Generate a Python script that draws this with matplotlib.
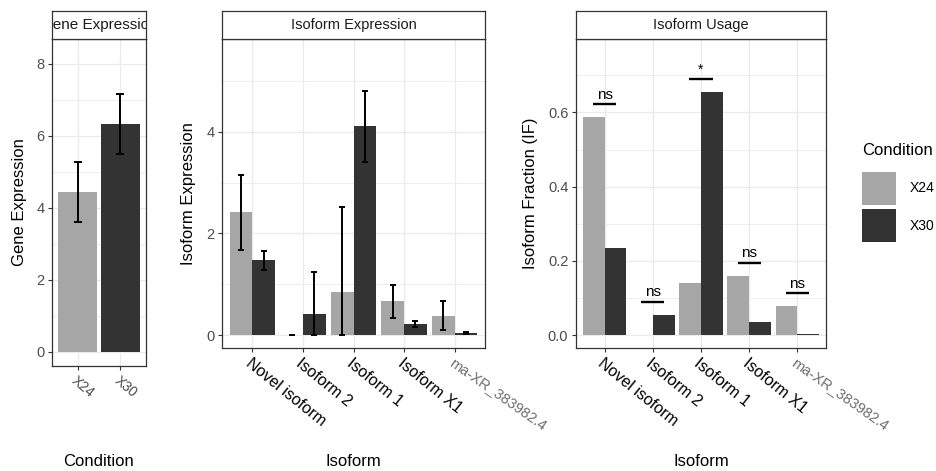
import matplotlib
matplotlib.use("Agg")
import matplotlib.pyplot as plt
from matplotlib.patches import Patch
from matplotlib.ticker import MultipleLocator
from matplotlib.transforms import ScaledTranslation
import numpy as np

plt.rcParams['font.family'] = ['Liberation Sans', 'DejaVu Sans']

# ---------------- data ----------------
conditions = ["X24", "X30"]
gene_mean = [4.45, 6.33]
gene_lo = [3.62, 5.50]
gene_hi = [5.27, 7.17]

isoforms = ["Novel isoform", "Isoform 2", "Isoform 1", "Isoform X1", "ma-XR_383982.4"]
iso_x24 = [2.42, 0.0, 0.85, 0.67, 0.38]
iso_x24_lo = [1.68, 0.0, 0.0, 0.33, 0.09]
iso_x24_hi = [3.15, 0.0, 2.53, 0.99, 0.66]
iso_x30 = [1.47, 0.42, 4.11, 0.21, 0.03]
iso_x30_lo = [1.29, 0.0, 3.41, 0.15, 0.01]
iso_x30_hi = [1.65, 1.25, 4.81, 0.28, 0.05]

if_x24 = [0.587, 0.0, 0.14, 0.16, 0.079]
if_x30 = [0.234, 0.055, 0.656, 0.034, 0.003]
sig_labels = ["ns", "ns", "*", "ns", "ns"]

# ---------------- style ----------------
C24 = "#A6A6A6"
C30 = "#333333"
BORDER = "#333333"
GRID = "#EBEBEB"
TICKC = "#4D4D4D"

W, H = 936, 471
fig = plt.figure(figsize=(W / 100, H / 100), dpi=100)


def rect(l, t, r, b):
    return [l / W, 1 - b / H, (r - l) / W, (b - t) / H]


def style_axes(ax, ymajor, yminor):
    ax.set_facecolor("white")
    for sp in ax.spines.values():
        sp.set_color(BORDER)
        sp.set_linewidth(0.9)
    ax.yaxis.set_major_locator(MultipleLocator(ymajor))
    ax.yaxis.set_minor_locator(MultipleLocator(yminor))
    ax.grid(True, which="major", color=GRID, lw=1.0)
    ax.grid(True, which="minor", axis="y", color=GRID, lw=0.6)
    ax.set_axisbelow(True)
    ax.tick_params(which="major", length=3, width=0.8, color=BORDER,
                   labelcolor=TICKC, labelsize=10.5, pad=2.5)
    ax.tick_params(which="minor", length=0)


def strip(l, r, text, size=10.5):
    sax = fig.add_axes(rect(l, 11, r, 39))
    sax.set_xticks([])
    sax.set_yticks([])
    sax.set_facecolor("white")
    for sp in sax.spines.values():
        sp.set_color(BORDER)
        sp.set_linewidth(0.9)
    sax.text(0.5, 0.5, text, ha="center", va="center", fontsize=size,
             color="#1A1A1A", transform=sax.transAxes, clip_on=True)
    return sax


def xlabels(ax, positions, labels, styles):
    ax.set_xticks(positions)
    ax.set_xticklabels([])
    off = ScaledTranslation(0, -5.5 / 72, fig.dpi_scale_trans)
    for p, lab, st in zip(positions, labels, styles):
        ax.text(p, 0, lab, transform=ax.get_xaxis_transform() + off,
                ha="left", va="top", rotation_mode="anchor",
                clip_on=False, **st)


# ---------------- panel 1: gene expression ----------------
ax1 = fig.add_axes(rect(52, 39, 146, 366))
style_axes(ax1, 2, 1)
xg = np.arange(1, len(conditions) + 1)
ax1.bar(xg, gene_mean, width=0.9, color=[C24, C30], zorder=2)
ax1.errorbar(xg, gene_mean,
             yerr=[np.array(gene_mean) - np.array(gene_lo),
                   np.array(gene_hi) - np.array(gene_mean)],
             fmt="none", ecolor="black", elinewidth=1.4, capsize=3.2,
             capthick=1.4, zorder=3)
ax1.set_xlim(0.4, 2.6)
ax1.set_ylim(-0.39, 8.69)
xlabels(ax1, xg, conditions,
        [dict(rotation=-40, fontsize=10, color=TICKC)] * len(conditions))
strip(52, 146, "Gene Expression", size=11)

# ---------------- panel 2: isoform expression ----------------
ax2 = fig.add_axes(rect(222, 39, 485, 348))
style_axes(ax2, 2, 1)
xi = np.arange(1, len(isoforms) + 1)
dw = 0.45
ax2.bar(xi - dw / 2, iso_x24, width=dw, color=C24, zorder=2)
ax2.bar(xi + dw / 2, iso_x30, width=dw, color=C30, zorder=2)
for xs, m, lo, hi in [(xi - dw / 2, iso_x24, iso_x24_lo, iso_x24_hi),
                      (xi + dw / 2, iso_x30, iso_x30_lo, iso_x30_hi)]:
    m = np.array(m)
    ax2.errorbar(xs, m, yerr=[m - np.array(lo), np.array(hi) - m],
                 fmt="none", ecolor="black", elinewidth=1.4, capsize=2.3,
                 capthick=1.4, zorder=3)
ax2.set_xlim(0.4, 5.6)
ax2.set_ylim(-0.256, 5.83)
strip(222, 485, "Isoform Expression")

# ---------------- panel 3: isoform usage ----------------
ax3 = fig.add_axes(rect(576, 39, 826, 348))
style_axes(ax3, 0.2, 0.1)
ax3.bar(xi - dw / 2, if_x24, width=dw, color=C24, zorder=2)
ax3.bar(xi + dw / 2, if_x30, width=dw, color=C30, zorder=2)
for i, lab in enumerate(sig_labels):
    y = max(if_x24[i], if_x30[i]) + 0.035
    ax3.hlines(y, xi[i] - 0.24, xi[i] + 0.24, color="black", lw=1.7, zorder=4)
    ax3.text(xi[i], y + 0.006, lab, ha="center", va="bottom",
             fontsize=11 if lab != "*" else 10, color="black", zorder=4)
ax3.set_xlim(0.4, 5.6)
ax3.set_ylim(-0.035, 0.798)
ax3.yaxis.set_major_formatter(matplotlib.ticker.FormatStrFormatter("%.1f"))
strip(576, 826, "Isoform Usage")

iso_styles = [dict(rotation=-39, fontsize=11.5, color="black")] * (len(isoforms) - 1) + \
             [dict(rotation=-35, fontsize=10.5, color="#6E6E6E")]
for ax in (ax2, ax3):
    xlabels(ax, xi, isoforms, iso_styles)

# ---------------- axis titles ----------------
fig.text(19.5 / W, 1 - 202 / H, "Gene Expression", rotation=90,
         ha="center", va="center", fontsize=12)
fig.text(189 / W, 1 - 193.5 / H, "Isoform Expression", rotation=90,
         ha="center", va="center", fontsize=12)
fig.text(530 / W, 1 - 193.5 / H, "Isoform Fraction (IF)", rotation=90,
         ha="center", va="center", fontsize=12)
fig.text(99 / W, 1 - 461 / H, "Condition", ha="center", va="center", fontsize=12)
fig.text(353.5 / W, 1 - 461 / H, "Isoform", ha="center", va="center", fontsize=12)
fig.text(701 / W, 1 - 461 / H, "Isoform", ha="center", va="center", fontsize=12)

# ---------------- legend ----------------
handles = [Patch(facecolor=C24, edgecolor="none"),
           Patch(facecolor=C30, edgecolor="none")]
leg = fig.legend(handles, conditions, title="Condition", loc="upper left",
                 bbox_to_anchor=(862 / W, 1 - 143 / H), frameon=False,
                 fontsize=10, title_fontsize=12, handlelength=2.45,
                 handleheight=3.3, labelspacing=0.3, handletextpad=1.0,
                 borderpad=0, borderaxespad=0, alignment="left")
leg._legend_box.sep = 10

fig.savefig("out.png", dpi=100, facecolor="white")
